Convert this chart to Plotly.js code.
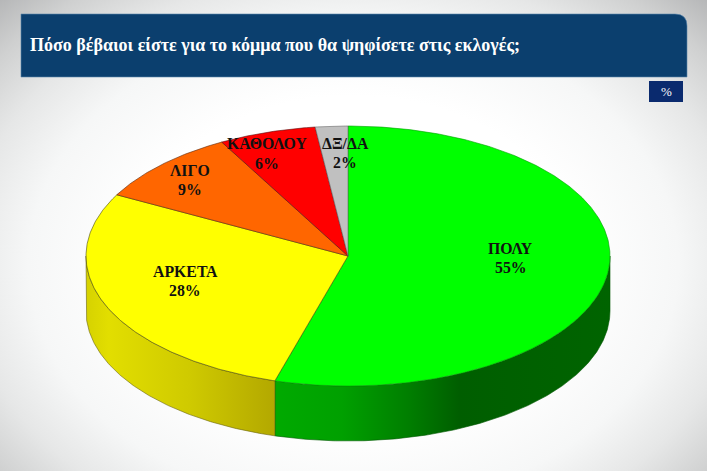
<!DOCTYPE html>
<html>
<head>
<meta charset="utf-8">
<script src="https://cdn.plot.ly/plotly-3.0.1.min.js"></script>
<style>
html,body{margin:0;padding:0;width:707px;height:471px;overflow:hidden;
background:radial-gradient(ellipse farthest-corner at 50% 56%,#ffffff 45%,#f6f7f7 65%,#e6e7e7 78%,#cfd0d0 90%,#b6b7b8 100%);}
#chart{width:707px;height:471px;}
</style>
</head>
<body>
<div id="chart"></div>
<script>
// Data
var categories = ['ΠΟΛΥ', 'ΑΡΚΕΤΑ', 'ΛΙΓΟ', 'ΚΑΘΟΛΟΥ', 'ΔΞ/ΔΑ'];
var shares = [54.5, 28.3, 9.2, 6.0, 2.0];
var colors = ['#00ff00', '#ffff00', '#ff6600', '#ff0000', '#c0c0c0'];
var edgeColors = ['#00a000', '#4a4a10', '#5a2a10', '#5a1010', '#666666'];
var labelX = [0.622, -0.622, -0.603, -0.309, -0.011];
var labelY = [0.054, -0.123, 0.654, 0.862, 0.869];
var valueY = [-0.092, -0.262, 0.508, 0.715, 0.723];
var titleText = 'Πόσο βέβαιοι είστε για το κόμμα που θα ψηφίσετε στις εκλογές;';
var unitText = '%';
var depth = 0.423;

var sideScales = [
  [[0,'#00aa00'],[0.2,'#00a000'],[0.4,'#007e00'],[0.55,'#005e00'],[1,'#006400']],
  [[0,'#d6d200'],[0.12,'#e2de00'],[0.55,'#cfca00'],[1,'#b3a800']]
];

function arc(t0, t1, off) {
  var xs = [], ys = [], n = Math.max(2, Math.ceil(Math.abs(t1 - t0) / 0.5));
  for (var i = 0; i <= n; i++) {
    var t = (t0 + (t1 - t0) * i / n) * Math.PI / 180;
    xs.push(Math.sin(t)); ys.push(Math.cos(t) - off);
  }
  return {x: xs, y: ys};
}

var traces = [];
var total = shares.reduce(function (a, b) { return a + b; }, 0);
var edges = [0];
shares.forEach(function (s, i) { edges.push(edges[i] + s / total * 360); });

// rim (front half only)
shares.forEach(function (s, i) {
  var a = Math.max(edges[i], 90), b = Math.min(edges[i + 1], 270);
  if (b <= a) return;
  var top = arc(a, b, 0), bot = arc(b, a, depth);
  traces.push({
    type: 'scatter', mode: 'lines', hoverinfo: 'skip', showlegend: false,
    x: top.x.concat(bot.x, [top.x[0]]), y: top.y.concat(bot.y, [top.y[0]]),
    fill: 'toself',
    fillgradient: {type: 'horizontal', colorscale: sideScales[i]},
    line: {color: i === 0 ? '#005800' : '#6a6410', width: 0.6}
  });
});

// top slices
shares.forEach(function (s, i) {
  var a = arc(edges[i], edges[i + 1], 0);
  traces.push({
    type: 'scatter', mode: 'lines', hoverinfo: 'skip', showlegend: false,
    name: categories[i],
    x: [0].concat(a.x, [0]), y: [0].concat(a.y, [0]),
    fill: 'toself', fillcolor: colors[i],
    line: {color: edgeColors[i], width: 0.6}
  });
});

var labelFont = {family: '"Liberation Serif", serif', size: 15.8, color: '#111111', weight: 700};
var annotations = [];
categories.forEach(function (c, i) {
  annotations.push({xref: 'x', yref: 'y', x: labelX[i], y: labelY[i], showarrow: false,
    xanchor: 'center', yanchor: 'middle', text: c, font: labelFont});
  annotations.push({xref: 'x', yref: 'y', x: labelX[i], y: valueY[i], showarrow: false,
    xanchor: 'center', yanchor: 'middle', text: Math.round(shares[i]) + '%', font: labelFont});
});
annotations.push({
  xref: 'paper', yref: 'paper', x: 666 / 707, y: 1 - 92 / 471, showarrow: false,
  xanchor: 'center', yanchor: 'middle',
  text: unitText, font: {family: '"Liberation Serif", serif', size: 13, color: '#ffffff'}
});

var layout = {
  width: 707, height: 471,
  margin: {l: 0, r: 0, t: 0, b: 0},
  paper_bgcolor: 'rgba(0,0,0,0)', plot_bgcolor: 'rgba(0,0,0,0)',
  showlegend: false, hovermode: false,
  title: {
    text: '<b>' + titleText + '</b>',
    x: 30 / 707, xanchor: 'left', xref: 'paper',
    y: 1 - 45 / 471, yanchor: 'middle', yref: 'container',
    font: {family: '"Liberation Serif", serif', size: 18, color: '#ffffff'}
  },
  xaxis: {range: [-348 / 262, 359 / 262], visible: false, fixedrange: true},
  yaxis: {range: [-215 / 130, 256 / 130], visible: false, fixedrange: true},
  shapes: [
    {type: 'path', xref: 'paper', yref: 'paper', layer: 'below',
     path: 'M ' + (21 / 707) + ' ' + (1 - 14 / 471) + ' L ' + (675 / 707) + ' ' + (1 - 14 / 471) +
           ' Q ' + (687 / 707) + ' ' + (1 - 14 / 471) + ' ' + (687 / 707) + ' ' + (1 - 26 / 471) +
           ' L ' + (687 / 707) + ' ' + (1 - 77 / 471) + ' L ' + (21 / 707) + ' ' + (1 - 77 / 471) + ' Z',
     fillcolor: '#0b3f6e', line: {color: '#5a86ad', width: 0.6}},
    {type: 'rect', xref: 'paper', yref: 'paper', layer: 'below',
     x0: 649 / 707, x1: 683 / 707, y0: 1 - 102 / 471, y1: 1 - 81 / 471,
     fillcolor: '#0a2a6e', line: {width: 0}}
  ],
  annotations: annotations
};

Plotly.newPlot('chart', traces, layout, {displayModeBar: false, staticPlot: true});
</script>
</body>
</html>
